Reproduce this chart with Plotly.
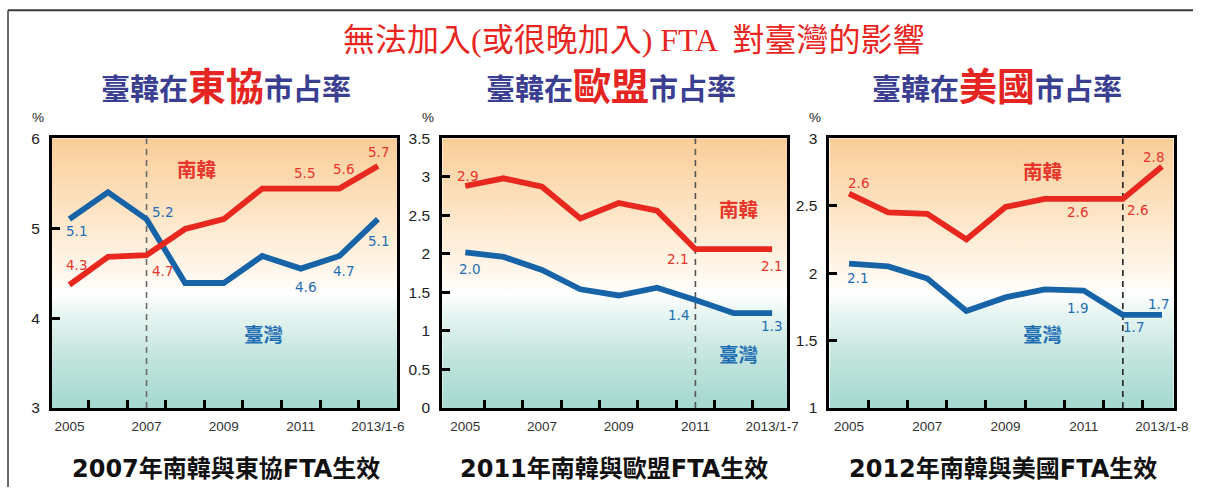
import plotly.graph_objects as go

# ---------------- data ----------------
periods = ["2005", "2006", "2007", "2008", "2009", "2010", "2011", "2012", "2013"]
tick_text_asean = ["2005", "2007", "2009", "2011", "2013/1-6"]
tick_text_eu = ["2005", "2007", "2009", "2011", "2013/1-7"]
tick_text_us = ["2005", "2007", "2009", "2011", "2013/1-8"]

asean_korea = [4.37, 4.68, 4.70, 4.99, 5.10, 5.44, 5.44, 5.44, 5.69]
asean_taiwan = [5.10, 5.40, 5.10, 4.39, 4.39, 4.69, 4.55, 4.69, 5.10]
eu_korea = [2.88, 2.98, 2.87, 2.46, 2.66, 2.56, 2.06, 2.06, 2.06]
eu_taiwan = [2.02, 1.96, 1.79, 1.54, 1.46, 1.56, 1.40, 1.23, 1.23]
us_korea = [2.59, 2.45, 2.44, 2.25, 2.49, 2.55, 2.55, 2.55, 2.79]
us_taiwan = [2.07, 2.05, 1.96, 1.72, 1.82, 1.88, 1.87, 1.69, 1.69]

asean_korea_text = ["4.3", "4.7", "5.5", "5.6", "5.7"]
asean_taiwan_text = ["5.1", "5.2", "4.6", "4.7", "5.1"]
eu_korea_text = ["2.9", "2.1", "2.1"]
eu_taiwan_text = ["2.0", "1.4", "1.3"]
us_korea_text = ["2.6", "2.6", "2.6", "2.8"]
us_taiwan_text = ["2.1", "1.9", "1.7", "1.7"]

fta_asean, fta_eu, fta_us = "2007", "2011", "2012"

title_text = "無法加入(或很晚加入) FTA  對臺灣的影響"
captions = ["2007年南韓與東協FTA生效", "2011年南韓與歐盟FTA生效", "2012年南韓與美國FTA生效"]
regions = ["東協", "歐盟", "美國"]
korea_name, taiwan_name = "南韓", "臺灣"

# ---------------- styling / placement ----------------
W, H = 1208, 495
SX, SY, OY = 0.987, 0.97, 7.2     # observed capture mapping (page -> photo)


def pxx(px):   # desired photo x pixel -> paper fraction
    return min(1.0, (px / SX) / W)


def pxy(py):   # desired photo y pixel (from top) -> paper fraction
    return min(1.0, max(0.0, 1 - ((py - OY) / SY) / H))


RED = "#e8281f"
BLUE = "#1763a8"
LBL_RED = "#e8352b"
LBL_BLUE = "#1f6eb3"
SUB_BLUE = "#3b3f91"
CJK = "Noto Sans CJK TC"

# label placements: (point index, dx px, dy px)
place = {
    "asean_korea": [(0, 7, 20), (2, 16, -16), (6, 4, 16), (7, 4, 20), (8, 1, 14)],
    "asean_taiwan": [(0, 7, -12), (2, 16, 7), (6, 5, -18), (7, 4, -15), (8, 1, -22)],
    "eu_korea": [(0, 2, 10), (6, -18, -10), (8, -1, -17)],
    "eu_taiwan": [(0, 4, -17), (6, -17, -15), (8, -1, -13)],
    "us_korea": [(0, 9, 11), (6, -6, -13), (7, 15, -11), (8, -8, 10)],
    "us_taiwan": [(0, 8, -14), (6, -6, -17), (7, 11, -12), (8, -3, 11)],
}

panels = [
    dict(korea=asean_korea, taiwan=asean_taiwan, ktext=asean_korea_text, ttext=asean_taiwan_text,
         kp=place["asean_korea"], tp=place["asean_taiwan"], ticks=tick_text_asean, fta=fta_asean,
         yr=[3, 6], dtick=1, xr=[-0.45, 8.5], px=(52, 397), dash="#6a6a6a",
         kname=(3.29, 5.66), tname=(5.02, 3.83), sub_x=226, cap_x=226),
    dict(korea=eu_korea, taiwan=eu_taiwan, ktext=eu_korea_text, ttext=eu_taiwan_text,
         kp=place["eu_korea"], tp=place["eu_taiwan"], ticks=tick_text_eu, fta=fta_eu,
         yr=[0, 3.5], dtick=0.5, xr=[-0.6, 8.4], px=(442, 787), dash="#555555",
         kname=(7.12, 2.59), tname=(7.12, 0.71), sub_x=611, cap_x=614),
    dict(korea=us_korea, taiwan=us_taiwan, ktext=us_korea_text, ttext=us_taiwan_text,
         kp=place["us_korea"], tp=place["us_taiwan"], ticks=tick_text_us, fta=fta_us,
         yr=[1, 3], dtick=0.5, xr=[-0.5, 8.3], px=(829, 1173), dash="#222222",
         kname=(4.95, 2.76), tname=(4.95, 1.55), sub_x=996, cap_x=1002),
]

PLOT_TOP, PLOT_BOT = 137, 408
idx = list(range(len(periods)))

fig = go.Figure()
annotations = []
layout_axes = {}

for k, p in enumerate(panels):
    sfx = "" if k == 0 else str(k + 1)
    xa, ya = "x" + sfx, "y" + sfx
    x0, x1 = p["xr"]
    y0, y1 = p["yr"]

    # gradient background
    fig.add_trace(go.Scatter(
        x=[x0, x1, x1, x0, x0], y=[y0, y0, y1, y1, y0], xaxis=xa, yaxis=ya,
        mode="lines", line=dict(width=0), fill="toself", hoverinfo="skip", showlegend=False,
        fillgradient=dict(type="vertical", start=y0, stop=y1,
                          colorscale=[[0, "#9fd6cc"], [0.2, "#bfe3dc"], [0.38, "#e9f6f3"],
                                      [0.44, "#ffffff"], [0.52, "#fff7ec"], [0.75, "#fde3c2"],
                                      [1, "#f9cd98"]]),
    ))
    # FTA dashed line
    fi = periods.index(p["fta"])
    fig.add_trace(go.Scatter(
        x=[fi, fi], y=[y0, y1], xaxis=xa, yaxis=ya, mode="lines",
        line=dict(color=p["dash"], width=1.6, dash="6px,5px"), hoverinfo="skip", showlegend=False))
    # series
    fig.add_trace(go.Scatter(x=idx, y=p["taiwan"], xaxis=xa, yaxis=ya, mode="lines",
                             line=dict(color=BLUE, width=5.8), showlegend=False))
    fig.add_trace(go.Scatter(x=idx, y=p["korea"], xaxis=xa, yaxis=ya, mode="lines",
                             line=dict(color=RED, width=5.8), showlegend=False))

    # value labels
    for vals, texts, pl, col in [(p["korea"], p["ktext"], p["kp"], LBL_RED),
                                 (p["taiwan"], p["ttext"], p["tp"], LBL_BLUE)]:
        for (i, dx, dy), t in zip(pl, texts):
            annotations.append(dict(x=i, y=vals[i], xref=xa, yref=ya, text=t, showarrow=False,
                                    xshift=dx, yshift=dy, xanchor="center", yanchor="middle",
                                    font=dict(family="DejaVu Sans", size=13.5, color=col)))
    # series names
    annotations.append(dict(x=p["kname"][0], y=p["kname"][1], xref=xa, yref=ya,
                            text="<b>" + korea_name + "</b>", showarrow=False,
                            xanchor="center", yanchor="middle",
                            font=dict(family=CJK, size=19.5, color=LBL_RED)))
    annotations.append(dict(x=p["tname"][0], y=p["tname"][1], xref=xa, yref=ya,
                            text="<b>" + taiwan_name + "</b>", showarrow=False,
                            xanchor="center", yanchor="middle",
                            font=dict(family=CJK, size=19.5, color=LBL_BLUE)))
    # % unit
    annotations.append(dict(x=0, y=1, xref=xa + " domain", yref=ya + " domain", text="%",
                            showarrow=False, xshift=-14, yshift=21,
                            xanchor="center", yanchor="middle",
                            font=dict(family="Liberation Sans", size=13.5, color="#222")))
    # subtitle
    annotations.append(dict(
        x=pxx(p["sub_x"]), y=pxy(82), xref="paper", yref="paper", showarrow=False,
        xanchor="center", yanchor="middle",
        text=('<b><span style="color:%s;font-size:29px">臺韓在</span>'
              '<span style="color:%s;font-size:38px">%s</span>'
              '<span style="color:%s;font-size:29px">市占率</span></b>')
             % (SUB_BLUE, "#e52521", regions[k], SUB_BLUE),
        font=dict(family=CJK, size=29, color=SUB_BLUE)))
    # caption
    annotations.append(dict(x=pxx(p["cap_x"]), y=pxy(469), xref="paper", yref="paper",
                            showarrow=False, text="<b>" + captions[k] + "</b>",
                            xanchor="center", yanchor="middle",
                            font=dict(family="DejaVu Sans, " + CJK, size=24, color="#111")))

    dom_x = [pxx(p["px"][0]), pxx(p["px"][1])]
    dom_y = [pxy(PLOT_BOT), pxy(PLOT_TOP)]
    layout_axes["xaxis" + sfx] = dict(
        domain=dom_x, range=[x0, x1], anchor=ya, showline=True, linecolor="black", linewidth=3,
        mirror=True, showgrid=False, zeroline=False, fixedrange=True,
        tickmode="array", tickvals=idx[::2], ticktext=p["ticks"],
        ticks="inside", ticklen=8, tickcolor="rgba(0,0,0,0)", ticklabelstandoff=4,
        tickfont=dict(family="Liberation Sans Narrow, Liberation Sans", size=13.5, color="#333"),
        minor=dict(tickmode="array", tickvals=[i + 0.5 for i in idx[:-1]], ticks="inside",
                   ticklen=8, tickwidth=2.5, tickcolor="black", showgrid=False),
    )
    layout_axes["yaxis" + sfx] = dict(
        domain=dom_y, range=[y0, y1], anchor=xa, showline=True, linecolor="black", linewidth=3,
        mirror=True, showgrid=False, zeroline=False, fixedrange=True,
        tick0=y0, dtick=p["dtick"], ticks="inside", ticklen=8, tickwidth=2.5, tickcolor="black",
        ticklabelstandoff=6,
        tickfont=dict(family="Liberation Sans", size=15.5, color="#222"),
    )

annotations.append(dict(x=pxx(633), y=pxy(38), xref="paper", yref="paper", showarrow=False,
                        xanchor="center", yanchor="middle", text=title_text,
                        font=dict(family="Liberation Serif, " + CJK, size=32, color="#e8251e")))

shapes = [
    dict(type="line", xref="paper", yref="paper", x0=pxx(8), x1=1, y0=1 - 1.2 / H, y1=1 - 1.2 / H,
         line=dict(color="#3a3a3a", width=2)),
    dict(type="line", xref="paper", yref="paper", x0=pxx(8), x1=pxx(8), y0=0, y1=1 - 1.2 / H,
         line=dict(color="#3a3a3a", width=1.5)),
]

fig.update_layout(
    autosize=True, margin=dict(l=0, r=0, t=0, b=0),
    paper_bgcolor="white", plot_bgcolor="white",
    annotations=annotations, shapes=shapes, showlegend=False, **layout_axes,
)

# figure div pinned to the page's top-left corner at exactly 1208x495
fig.write_html("out.html", config={"displayModeBar": False},
               default_width="%dpx; position:absolute; left:0px; top:0px" % W,
               default_height="%dpx" % H)
